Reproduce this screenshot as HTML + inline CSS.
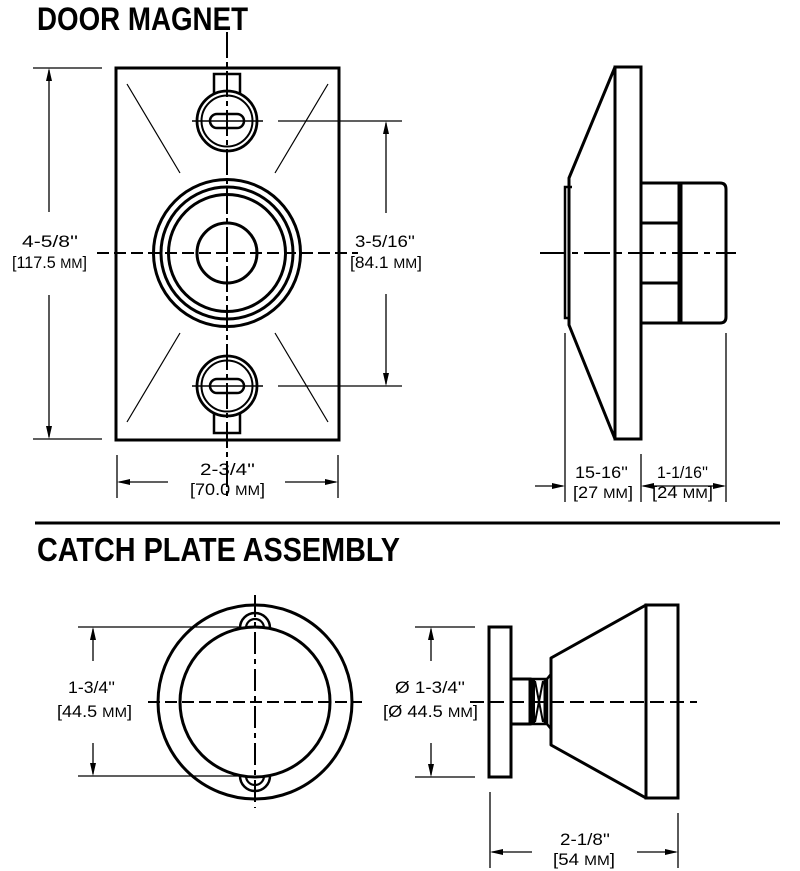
<!DOCTYPE html>
<html><head><meta charset="utf-8"><style>
html,body{margin:0;padding:0;background:#fff;}
svg{display:block;}
text{font-family:"Liberation Sans",sans-serif;fill:#000;}
.t{font-weight:bold;font-family:"Liberation Sans Narrow","Liberation Sans",sans-serif;}
.d{font-size:17px;}
</style></head><body>
<svg width="800" height="871" viewBox="0 0 800 871" xmlns="http://www.w3.org/2000/svg">
<rect width="800" height="871" fill="#fff"/>
<!-- Titles -->
<text class="t" x="37" y="30" font-size="32" textLength="211" lengthAdjust="spacingAndGlyphs">DOOR MAGNET</text>
<text class="t" x="37" y="561" font-size="33" textLength="363" lengthAdjust="spacingAndGlyphs">CATCH PLATE ASSEMBLY</text>
<line x1="35" y1="523" x2="780" y2="523" stroke="#000" stroke-width="3"/>

<g fill="none" stroke="#000">
<!-- ===== DOOR MAGNET FRONT ===== -->
<rect x="116" y="68" width="223" height="372" stroke-width="3"/>
<g stroke-width="1.2">
<line x1="127" y1="84" x2="180" y2="173"/>
<line x1="328" y1="84" x2="275" y2="173"/>
<line x1="180" y1="333" x2="127" y2="422"/>
<line x1="275" y1="333" x2="328" y2="422"/>
</g>
<!-- top screw -->
<path d="M214,94 V74 H240 V94" stroke-width="2.5"/>
<circle cx="227" cy="121" r="30" stroke-width="2.8"/>
<circle cx="227" cy="121" r="25.5" stroke-width="2"/>
<rect x="210" y="114" width="34" height="14" rx="7" stroke-width="2.5"/>
<line x1="192" y1="121" x2="263" y2="121" stroke-width="1.6"/>
<!-- bottom screw -->
<path d="M214,413 V433 H240 V413" stroke-width="2.5"/>
<circle cx="227" cy="386" r="30" stroke-width="2.8"/>
<circle cx="227" cy="386" r="25.5" stroke-width="2"/>
<rect x="210" y="379" width="34" height="14" rx="7" stroke-width="2.5"/>
<line x1="192" y1="386" x2="263" y2="386" stroke-width="1.6"/>
<!-- big rings -->
<circle cx="227" cy="253" r="73.5" stroke-width="3"/>
<circle cx="227" cy="253" r="66" stroke-width="3"/>
<circle cx="227" cy="253" r="58.5" stroke-width="3"/>
<circle cx="227" cy="253" r="30" stroke-width="3"/>
<!-- center lines -->
<line x1="227" y1="32" x2="227" y2="497" stroke-width="2" stroke-dasharray="26 4 5 4"/>
<line x1="97" y1="253" x2="358" y2="253" stroke-width="2" stroke-dasharray="12 5"/>
<g stroke-width="1.3">
<line x1="33" y1="68" x2="102" y2="68"/>
<line x1="33" y1="439" x2="102" y2="439"/>
<line x1="49" y1="70" x2="49" y2="212"/>
<line x1="49" y1="295" x2="49" y2="437"/>
<line x1="278" y1="121" x2="402" y2="121"/>
<line x1="278" y1="386" x2="402" y2="386"/>
<line x1="386" y1="123" x2="386" y2="213"/>
<line x1="386" y1="294" x2="386" y2="384"/>
<line x1="117" y1="455" x2="117" y2="498"/>
<line x1="338" y1="455" x2="338" y2="498"/>
<line x1="119" y1="482" x2="168" y2="482"/>
<line x1="285" y1="482" x2="336" y2="482"/>
</g>

<!-- ===== DOOR MAGNET SIDE ===== -->
<rect x="615" y="67" width="26" height="372" stroke-width="3"/>
<path d="M615,67 L569,178 L569,325 L615,439" stroke-width="3" stroke-linejoin="round"/>
<path d="M572,187 H565 V318 H569" stroke-width="2.5"/>
<path d="M641,183 H720 Q726,183 726,189 V317 Q726,323 720,323 H641" stroke-width="3"/>
<line x1="680" y1="183" x2="680" y2="323" stroke-width="5"/>
<line x1="641" y1="223" x2="680" y2="223" stroke-width="3"/>
<line x1="641" y1="283" x2="680" y2="283" stroke-width="3"/>
<line x1="540" y1="253" x2="736" y2="253" stroke-width="2" stroke-dasharray="26 6 6 6"/>
<g stroke-width="1.3">
<line x1="565" y1="333" x2="565" y2="502"/>
<line x1="641" y1="454" x2="641" y2="502"/>
<line x1="726" y1="333" x2="726" y2="502"/>
<line x1="535" y1="486" x2="563" y2="486"/>
<line x1="643" y1="486" x2="724" y2="486"/>
</g>

<!-- ===== CATCH PLATE FRONT ===== -->
<circle cx="255" cy="702" r="97" stroke-width="3"/>
<circle cx="255" cy="702" r="75" stroke-width="3"/>
<path d="M240,628 A15,15 0 0 1 270,628" stroke-width="2.5"/>
<path d="M246,628 A9,9 0 0 1 264,628" stroke-width="2.2"/>
<path d="M240,776 A15,15 0 0 0 270,776" stroke-width="2.5"/>
<path d="M246,776 A9,9 0 0 0 264,776" stroke-width="2.2"/>
<line x1="255" y1="595" x2="255" y2="808" stroke-width="2" stroke-dasharray="22 5 5 5"/>
<line x1="148" y1="702" x2="362" y2="702" stroke-width="2" stroke-dasharray="12 5"/>
<g stroke-width="1.3">
<line x1="78" y1="627" x2="240" y2="627"/>
<line x1="78" y1="776" x2="240" y2="776"/>
<line x1="93" y1="629" x2="93" y2="661"/>
<line x1="93" y1="743" x2="93" y2="774"/>
</g>

<!-- ===== CATCH PLATE SIDE ===== -->
<rect x="489" y="627" width="22" height="150" stroke-width="3"/>
<rect x="511" y="679" width="19" height="45" stroke-width="3"/>
<rect x="530" y="679" width="17" height="45" stroke-width="2.5"/>
<line x1="533" y1="679" x2="533" y2="724" stroke-width="4"/>
<line x1="545" y1="679" x2="545" y2="724" stroke-width="3"/>
<line x1="535" y1="681" x2="543" y2="722" stroke-width="2"/>
<line x1="543" y1="681" x2="535" y2="722" stroke-width="2"/>
<line x1="547" y1="679" x2="551" y2="674" stroke-width="2.5"/>
<line x1="547" y1="724" x2="551" y2="729" stroke-width="2.5"/>
<polygon points="551,658 646,605 646,798 551,745" stroke-width="3" stroke-linejoin="round"/>
<rect x="646" y="605" width="32" height="193" stroke-width="3"/>
<line x1="470" y1="702" x2="697" y2="702" stroke-width="2" stroke-dasharray="14 6"/>
<g stroke-width="1.3">
<line x1="415" y1="627" x2="475" y2="627"/>
<line x1="415" y1="777" x2="475" y2="777"/>
<line x1="431" y1="629" x2="431" y2="661"/>
<line x1="431" y1="743" x2="431" y2="775"/>
<line x1="490" y1="792" x2="490" y2="868"/>
<line x1="678" y1="813" x2="678" y2="868"/>
<line x1="492" y1="852" x2="532" y2="852"/>
<line x1="637" y1="852" x2="676" y2="852"/>
</g>
</g>

<!-- arrowheads -->
<g fill="#000" stroke="none">
<polygon points="49,68 46,81 52,81"/>
<polygon points="49,439 46,426 52,426"/>
<polygon points="386,121 383,134 389,134"/>
<polygon points="386,386 383,373 389,373"/>
<polygon points="117,482 130,479 130,485"/>
<polygon points="338,482 325,479 325,485"/>
<polygon points="565,486 552,483 552,489"/>
<polygon points="641,486 654,483 654,489"/>
<polygon points="726,486 713,483 713,489"/>
<polygon points="93,627 90,640 96,640"/>
<polygon points="93,776 90,763 96,763"/>
<polygon points="431,627 428,640 434,640"/>
<polygon points="431,777 428,764 434,764"/>
<polygon points="490,852 503,849 503,855"/>
<polygon points="678,852 665,849 665,855"/>
</g>

<!-- dimension text -->
<g class="d">
<text x="22" y="247" textLength="56" lengthAdjust="spacingAndGlyphs">4-5/8''</text>
<text x="12" y="268" textLength="75" lengthAdjust="spacingAndGlyphs">[117.5 <tspan font-size="14">MM</tspan>]</text>
<text x="355" y="247" textLength="60" lengthAdjust="spacingAndGlyphs">3-5/16''</text>
<text x="350" y="268" textLength="72" lengthAdjust="spacingAndGlyphs">[84.1 <tspan font-size="14">MM</tspan>]</text>
<text x="200" y="475" textLength="55" lengthAdjust="spacingAndGlyphs">2-3/4''</text>
<text x="190" y="495" textLength="75" lengthAdjust="spacingAndGlyphs">[70.0 <tspan font-size="14">MM</tspan>]</text>
<text x="575" y="478" textLength="53" lengthAdjust="spacingAndGlyphs">15-16''</text>
<text x="573" y="498" textLength="60" lengthAdjust="spacingAndGlyphs">[27 <tspan font-size="14">MM</tspan>]</text>
<text x="657" y="478" textLength="51" lengthAdjust="spacingAndGlyphs">1-1/16''</text>
<text x="652" y="498" textLength="61" lengthAdjust="spacingAndGlyphs">[24 <tspan font-size="14">MM</tspan>]</text>
<text x="68" y="693" textLength="47" lengthAdjust="spacingAndGlyphs">1-3/4''</text>
<text x="57" y="717" textLength="75" lengthAdjust="spacingAndGlyphs">[44.5 <tspan font-size="14">MM</tspan>]</text>
<text x="395" y="693" textLength="70" lengthAdjust="spacingAndGlyphs">Ø 1-3/4''</text>
<text x="383" y="717" textLength="95" lengthAdjust="spacingAndGlyphs">[Ø 44.5 <tspan font-size="14">MM</tspan>]</text>
<text x="560" y="845" textLength="50" lengthAdjust="spacingAndGlyphs">2-1/8''</text>
<text x="553" y="865" textLength="62" lengthAdjust="spacingAndGlyphs">[54 <tspan font-size="14">MM</tspan>]</text>
</g>
</svg>
</body></html>
